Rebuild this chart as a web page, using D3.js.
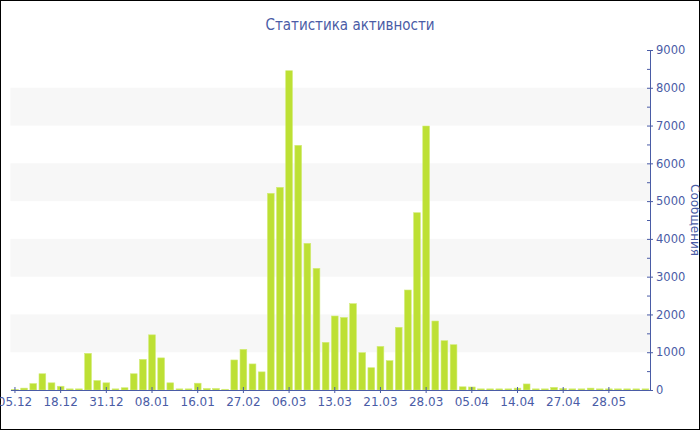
<!DOCTYPE html>
<html><head><meta charset="utf-8">
<script src="https://cdn.jsdelivr.net/npm/d3@7"></script>
<style>body{margin:0;background:#fff}svg{display:block}</style>
</head><body>
<script>
const categories = ["05.12","07.12","10.12","12.12","15.12","18.12","20.12","23.12","25.12","28.12",
"31.12","02.01","04.01","05.01","07.01","08.01","10.01","12.01","13.01","15.01",
"16.01","25.01","04.02","14.02","22.02","27.02","28.02","01.03","02.03","05.03",
"06.03","07.03","08.03","09.03","11.03","13.03","15.03","17.03","18.03","20.03",
"21.03","22.03","24.03","25.03","27.03","28.03","29.03","31.03","02.04","03.04",
"05.04","07.04","09.04","11.04","12.04","14.04","16.04","19.04","21.04","24.04",
"27.04","02.05","08.05","14.05","21.05","28.05","04.06","11.06","18.06","25.06"];
const messages = [15,50,170,430,190,100,30,30,970,250,
190,30,60,430,810,1460,850,190,30,30,
180,40,40,20,795,1077,690,480,5207,5365,
8452,6477,3883,3221,1262,1959,1920,2285,990,590,
1155,776,1660,2647,4693,6988,1826,1305,1199,85,
80,30,30,30,30,50,160,30,30,70,
40,30,30,50,30,30,30,30,30,30];
const tickLabels = ["05.12","18.12","31.12","08.01","16.01","27.02","06.03","13.03","21.03","28.03","05.04","14.04","27.04","28.05"];
const yTicks = [0,1000,2000,3000,4000,5000,6000,7000,8000,9000];
const title = "Статистика активности";
const yTitle = "Сообщения";

const W=700,H=430, L=10.4, R=650, T=50, B=390;
const blue="#4a5ca6";
const svg=d3.select("body").append("svg").attr("width",W).attr("height",H);
svg.append("rect").attr("x",0.5).attr("y",0.5).attr("width",W-1).attr("height",H-1).attr("fill","#fff").attr("stroke","#000");

const x=d3.scaleBand().domain(categories).range([L,R]).paddingInner(0.26).paddingOuter(0.13);
const xc=d3.scaleBand().domain(categories).range([L,R]);
const y=d3.scaleLinear().domain([0,9000]).range([B,T]);

// alternating bands
const bands=[[1000,2000],[3000,4000],[5000,6000],[7000,8000]];
svg.append("g").selectAll("rect").data(bands).join("rect")
 .attr("x",L).attr("width",R-L).attr("y",d=>y(d[1])).attr("height",d=>y(d[0])-y(d[1]))
 .attr("fill","#f7f7f7");

// bars
svg.append("g").selectAll("rect").data(messages).join("rect")
 .attr("x",(d,i)=>x(categories[i])).attr("width",x.bandwidth())
 .attr("y",d=>y(d)).attr("height",d=>B-y(d))
 .attr("fill","#bde034").attr("stroke","#d2ec78").attr("stroke-width",0.6);

// x axis
const xAxis=d3.axisBottom(xc).tickValues(tickLabels).tickSize(3).tickSizeOuter(0).tickPadding(4);
const gx=svg.append("g").attr("transform",`translate(0,${B})`).call(xAxis);
gx.select(".domain").attr("stroke",blue);
gx.selectAll(".tick line").attr("stroke",blue).attr("y1",-3);
gx.selectAll("text").attr("fill",blue).attr("font-family","DejaVu Sans").attr("font-size",12);

// y axis right
const gy=svg.append("g").attr("transform",`translate(${R},0)`)
 .call(d3.axisRight(y).tickValues(yTicks).tickFormat(d3.format("d")).tickSize(3).tickSizeOuter(0).tickPadding(3));
gy.select(".domain").attr("stroke",blue);
gy.selectAll(".tick line").attr("stroke",blue).attr("x1",-3);
gy.selectAll("text").attr("fill",blue).attr("font-family","DejaVu Sans").attr("font-size",11.5);
// minor ticks
const minor=d3.range(500,9000,1000);
gy.selectAll(".minor").data(minor).join("line").attr("class","minor")
 .attr("x1",-3).attr("x2",0).attr("y1",d=>y(d)+0.5).attr("y2",d=>y(d)+0.5).attr("stroke",blue);

svg.append("text").attr("x",350).attr("y",30).attr("text-anchor","middle")
 .attr("font-family","DejaVu Sans Condensed, DejaVu Sans").attr("font-size",15).attr("fill",blue).text(title);
svg.append("text").attr("transform",`translate(691,${(T+B)/2}) rotate(90)`).attr("text-anchor","middle")
 .attr("font-family","DejaVu Sans").attr("font-size",12).attr("fill",blue).text(yTitle);
</script>
</body></html>
